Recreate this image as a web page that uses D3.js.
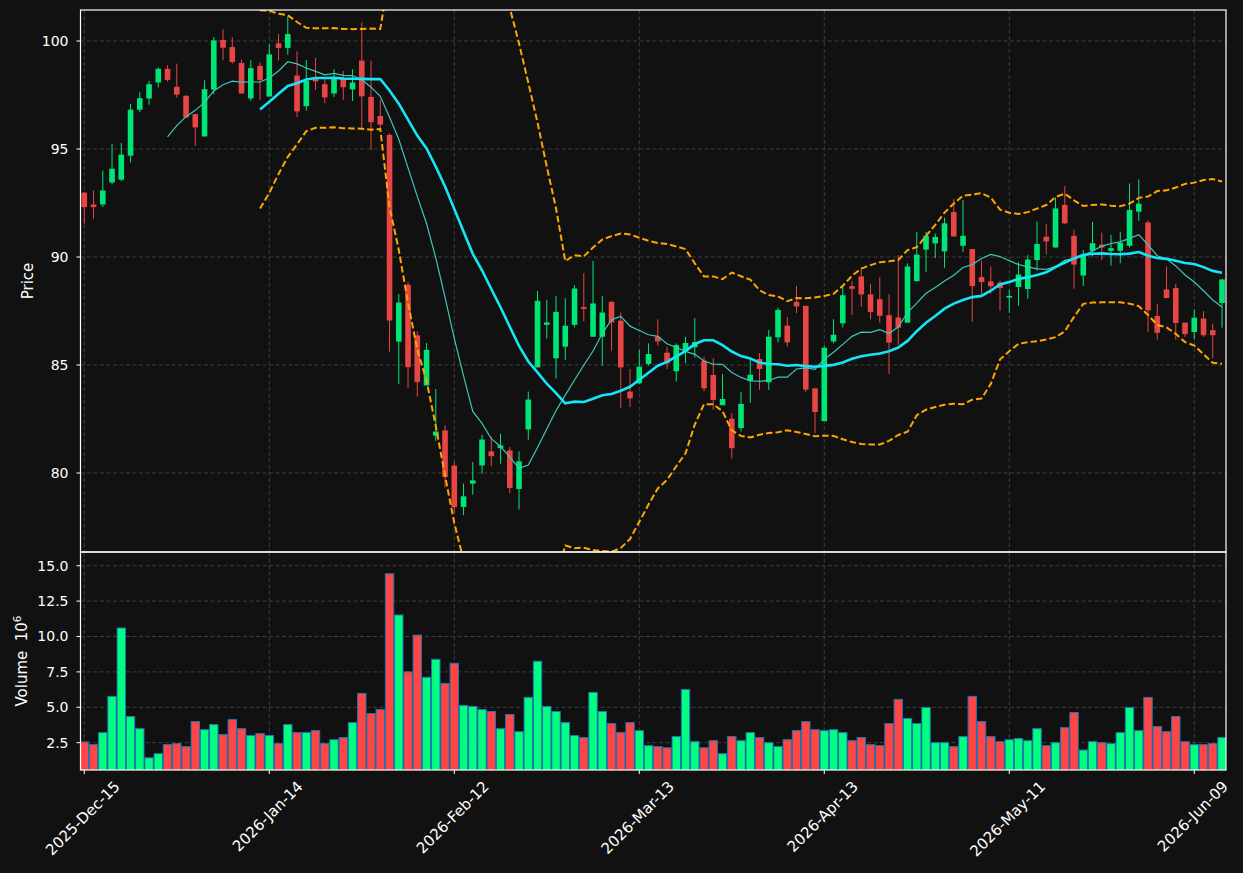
<!DOCTYPE html>
<html><head><meta charset="utf-8">
<script src="https://cdn.jsdelivr.net/npm/d3@7"></script>
<style>body{margin:0;background:#111111;} text{font-family:"DejaVu Sans",sans-serif;}</style>
</head><body><svg id="c" width="1243" height="873"></svg>
<script>
const opens = [92.98,92.43,92.43,93.45,93.58,94.69,96.82,97.34,98.08,98.71,
97.88,97.46,96.62,95.58,97.75,100.05,99.72,98.98,97.34,98.85,
97.43,99.89,99.68,98.40,96.98,98.29,98.00,97.57,98.26,97.76,
99.09,97.41,96.53,95.65,86.08,88.72,86.37,84.05,81.73,81.97,
80.34,78.43,79.51,80.35,81.00,81.15,81.05,79.26,82.02,84.89,
86.86,85.31,85.85,86.86,87.69,86.31,86.31,87.92,87.05,83.77,
84.15,85.05,86.31,85.57,84.71,85.66,85.82,85.20,84.54,83.14,
82.51,82.08,84.25,85.28,84.20,86.28,86.82,87.92,87.74,83.92,
82.40,86.09,86.93,88.65,89.10,88.27,88.04,87.31,87.20,86.96,
88.88,90.34,90.63,90.26,92.08,90.52,90.37,89.07,88.87,88.81,
88.12,88.61,88.52,89.86,90.94,90.44,92.41,90.98,89.14,90.29,
90.57,90.29,90.29,90.52,92.10,91.60,87.27,88.50,88.56,86.96,
86.53,87.15,86.61,87.87];
const highs = [93.00,93.08,94.00,95.23,95.28,97.08,97.63,98.15,98.77,98.88,
98.95,97.50,96.62,98.18,100.18,100.54,100.18,99.14,99.11,99.00,
99.85,100.32,101.12,99.52,99.12,99.22,98.29,98.69,98.61,98.69,
100.85,99.09,97.28,95.73,88.29,88.85,86.56,86.02,83.89,82.21,
80.53,79.51,80.51,81.77,81.69,81.82,81.20,81.00,83.77,88.43,
88.02,88.20,88.09,88.69,89.25,89.82,88.20,87.97,87.43,84.82,
85.69,86.00,87.12,85.82,86.00,86.31,87.17,85.38,85.32,84.58,
82.78,83.74,85.23,85.55,86.62,87.66,87.23,88.66,87.74,83.92,
85.89,87.12,88.68,88.88,89.45,88.76,89.07,88.27,90.09,89.71,
91.16,91.16,91.09,91.82,92.69,92.63,90.37,89.83,89.56,88.91,
88.49,89.76,90.09,91.64,91.52,92.75,93.28,91.26,90.32,91.63,
91.13,91.03,91.17,93.40,93.59,91.70,87.84,89.56,88.76,86.96,
87.56,87.50,86.92,88.99];
const lows = [91.54,91.77,92.31,93.38,93.51,94.38,96.71,97.05,97.85,98.12,
97.38,96.43,95.15,95.58,97.54,99.11,98.95,97.57,97.23,97.26,
97.43,99.09,99.36,96.48,96.77,97.73,97.12,97.41,97.28,97.22,
95.97,94.96,95.89,85.62,84.13,83.94,83.54,84.05,81.49,79.33,
78.15,78.05,79.00,79.97,80.32,80.43,79.08,78.31,81.54,84.89,
86.23,84.38,85.23,86.74,87.02,86.31,84.97,85.66,83.02,83.05,
84.12,84.97,85.89,84.82,84.23,85.08,85.35,83.78,82.92,83.14,
80.66,81.92,83.25,83.85,83.85,86.05,85.86,87.40,83.74,81.85,
82.40,86.00,86.74,87.31,87.69,87.11,86.96,84.59,85.93,86.96,
88.88,89.30,89.95,89.50,90.95,90.24,87.00,88.27,88.30,87.51,
87.42,87.74,88.07,89.37,90.11,90.44,91.52,88.53,88.65,90.02,
89.86,89.60,89.71,90.44,91.67,86.53,86.18,88.10,86.18,86.30,
86.18,86.30,85.31,86.73];
const closes = [92.31,92.31,93.08,94.09,94.74,96.82,97.35,98.00,98.71,98.20,
97.52,96.46,96.00,97.77,100.03,99.69,99.03,97.57,98.74,98.20,
99.38,99.68,100.32,96.74,98.16,98.13,97.39,98.26,97.86,98.08,
97.44,96.24,96.13,87.06,87.89,84.90,84.21,85.70,81.92,79.81,
78.42,78.92,79.66,81.55,80.78,81.28,79.31,80.54,83.40,87.97,
86.97,87.46,86.82,88.54,87.60,87.85,87.43,86.97,84.89,83.46,
84.92,85.51,86.09,85.08,85.92,86.02,86.06,83.92,83.38,83.43,
81.15,83.20,84.55,84.82,86.31,87.55,86.05,87.71,83.86,82.82,
85.80,86.40,88.23,88.53,88.27,87.46,87.28,86.04,86.73,89.56,
90.11,90.98,90.93,91.56,90.95,90.98,88.65,88.84,88.65,88.56,
88.20,89.19,89.88,90.60,90.72,92.25,91.56,89.65,90.11,90.64,
90.44,90.41,90.66,92.18,92.47,87.53,86.49,88.10,86.95,86.43,
87.19,86.38,86.38,88.96];
const volumes = [2.55,2.36,3.21,5.77,10.6,4.35,3.49,1.43,1.72,2.36,
2.43,2.22,3.99,3.42,3.78,3.07,4.13,3.49,3.00,3.14,
3.00,2.43,3.78,3.21,3.21,3.35,2.43,2.71,2.86,3.92,
5.98,4.56,4.84,14.43,11.52,7.50,10.10,7.12,8.39,6.69,
8.11,5.13,5.06,4.84,4.70,3.49,4.49,3.28,5.70,8.25,
5.06,4.70,3.92,3.00,2.86,6.05,4.70,3.85,3.21,3.92,
3.35,2.29,2.22,2.14,2.93,6.26,2.57,2.14,2.64,1.72,
2.93,2.64,3.21,2.86,2.50,2.22,2.71,3.35,3.99,3.42,
3.35,3.42,3.21,2.64,2.86,2.36,2.29,3.85,5.56,4.21,
3.85,4.99,2.50,2.50,2.22,2.93,5.77,3.99,2.93,2.57,
2.71,2.79,2.64,3.49,2.29,2.50,3.56,4.63,1.98,2.57,
2.50,2.43,3.21,4.99,3.35,5.70,3.64,3.28,4.35,2.57,
2.36,2.36,2.43,2.86];
const tickIdx = [0,20,40,60,80,100,120];
const tickLabels = ["2025-Dec-15","2026-Jan-14","2026-Feb-12","2026-Mar-13","2026-Apr-13","2026-May-11","2026-Jun-09"];
const priceTicks = [80,85,90,95,100];
const volTicks = [2.5,5.0,7.5,10.0,12.5,15.0];

const svg = d3.select("#c");
svg.append("rect").attr("width",1243).attr("height",873).attr("fill","#111111");
const L = 80.5, R = 1226, PT = 10, PB = 552, VT = 552, VB = 770;
const n = closes.length;
const x = d3.scaleLinear().domain([-0.41, 123.43]).range([L, R]);
const yP = d3.scaleLinear().domain([76.343, 101.435]).range([PB, PT]);
const yV = d3.scaleLinear().domain([0.57, 15.97]).range([VB, VT]);

const defs = svg.append("defs");
defs.append("clipPath").attr("id","cp").append("rect").attr("x",L).attr("y",PT).attr("width",R-L).attr("height",PB-PT);
defs.append("clipPath").attr("id","cv").append("rect").attr("x",L).attr("y",VT).attr("width",R-L).attr("height",VB-VT);

const gridCol = "#3e3e3e";
function grid(yScale, ticks, top, bot){
  const g = svg.append("g");
  g.selectAll("line.h").data(ticks).join("line")
    .attr("x1",L).attr("x2",R).attr("y1",d=>yScale(d)).attr("y2",d=>yScale(d))
    .attr("stroke",gridCol).attr("stroke-width",1).attr("stroke-dasharray","4,2.5");
  g.selectAll("line.v").data(tickIdx).join("line")
    .attr("x1",d=>x(d)).attr("x2",d=>x(d)).attr("y1",top).attr("y2",bot)
    .attr("stroke",gridCol).attr("stroke-width",1).attr("stroke-dasharray","4,2.5");
}
grid(yP, priceTicks, PT, PB);
grid(yV, volTicks, VT, VB);

const idx = d3.range(n);
const upC = "#00e676", dnC = "#e84545";
const pg = svg.append("g").attr("clip-path","url(#cp)");
pg.selectAll("line.w").data(idx).join("line")
  .attr("x1",i=>x(i)).attr("x2",i=>x(i)).attr("y1",i=>yP(highs[i])).attr("y2",i=>yP(lows[i]))
  .attr("stroke",i=>closes[i]>=opens[i]?upC:dnC).attr("stroke-width",1);
const bw = 5.6;
pg.selectAll("rect.b").data(idx).join("rect")
  .attr("x",i=>x(i)-bw/2).attr("width",bw)
  .attr("y",i=>yP(Math.max(opens[i],closes[i])))
  .attr("height",i=>Math.max(1.2, Math.abs(yP(opens[i])-yP(closes[i]))))
  .attr("fill",i=>closes[i]>=opens[i]?upC:dnC);

function rolling(w, f){ return idx.map(i => i < w-1 ? null : f(closes.slice(i-w+1, i+1))); }
const ma10 = rolling(10, a=>d3.mean(a));
const ma20 = rolling(20, a=>d3.mean(a));
const sd20 = rolling(20, a=>{const m=d3.mean(a); return Math.sqrt(d3.mean(a.map(v=>(v-m)*(v-m))));});
const upper = idx.map(i=>ma20[i]==null?null:ma20[i]+2*sd20[i]);
const lower = idx.map(i=>ma20[i]==null?null:ma20[i]-2*sd20[i]);
const line = arr => d3.line().defined(i=>arr[i]!=null).x(i=>x(i)).y(i=>yP(arr[i]))(idx);
pg.append("path").attr("d",line(upper)).attr("fill","none").attr("stroke","#ffa500").attr("stroke-width",2).attr("stroke-dasharray","6.5,3");
pg.append("path").attr("d",line(lower)).attr("fill","none").attr("stroke","#ffa500").attr("stroke-width",2).attr("stroke-dasharray","6.5,3");
pg.append("path").attr("d",line(ma10)).attr("fill","none").attr("stroke","#3cc8b8").attr("stroke-width",1.2);
pg.append("path").attr("d",line(ma20)).attr("fill","none").attr("stroke","#14e6f8").attr("stroke-width",2.6);

const vg = svg.append("g").attr("clip-path","url(#cv)");
const vw = 8.4;
vg.selectAll("rect.v").data(idx).join("rect")
  .attr("x",i=>x(i)-vw/2).attr("width",vw)
  .attr("y",i=>yV(volumes[i])).attr("height",i=>VB+2-yV(volumes[i]))
  .attr("fill",i=>closes[i]>=opens[i]?"#00ff80":"#ff4545")
  .attr("stroke","#1f77b4").attr("stroke-width",1);

svg.append("rect").attr("x",L).attr("y",PT).attr("width",R-L).attr("height",PB-PT).attr("fill","none").attr("stroke","#ffffff").attr("stroke-width",1.2);
svg.append("rect").attr("x",L).attr("y",VT).attr("width",R-L).attr("height",VB-VT).attr("fill","none").attr("stroke","#ffffff").attr("stroke-width",1.2);

const tc = "#ffffff", fs = 14;
function yticks(scale, ticks, fmt){
  const g = svg.append("g");
  g.selectAll("line").data(ticks).join("line").attr("x1",L-4).attr("x2",L).attr("y1",d=>scale(d)).attr("y2",d=>scale(d)).attr("stroke",tc).attr("stroke-width",1);
  g.selectAll("text").data(ticks).join("text").attr("x",L-12).attr("y",d=>scale(d)).attr("dy","0.35em")
    .attr("text-anchor","end").attr("fill",tc).attr("font-size",fs).text(fmt);
}
yticks(yP, priceTicks, d=>d3.format("d")(d));
yticks(yV, volTicks, d=>d3.format(".1f")(d));

const xfs = 15;
const xg = svg.append("g");
xg.selectAll("line").data(tickIdx).join("line").attr("x1",d=>x(d)).attr("x2",d=>x(d)).attr("y1",VB).attr("y2",VB+4).attr("stroke",tc);
xg.selectAll("text").data(tickIdx).join("text")
  .attr("fill",tc).attr("font-size",xfs).attr("text-anchor","middle").attr("dominant-baseline","central")
  .text((d,k)=>tickLabels[k])
  .each(function(d){
    const len = this.getComputedTextLength();
    const h = (len + xfs*0.75)*Math.SQRT1_2;
    const cx = x(d) - 1.5, cy = 780 + h/2;
    d3.select(this).attr("transform",`translate(${cx},${cy}) rotate(-45)`);
  });

const lfs = 15;
svg.append("text").attr("transform",`translate(33,${(PT+PB)/2}) rotate(-90)`).attr("text-anchor","middle")
  .attr("fill",tc).attr("font-size",lfs).text("Price");
const vl = svg.append("text").attr("transform",`translate(27,${(VT+VB)/2}) rotate(-90)`).attr("text-anchor","middle")
  .attr("fill",tc).attr("font-size",lfs);
vl.append("tspan").text("Volume\u00a0\u00a010");
vl.append("tspan").attr("font-size",10.5).attr("dy",-6).text("6");
</script></body></html>
